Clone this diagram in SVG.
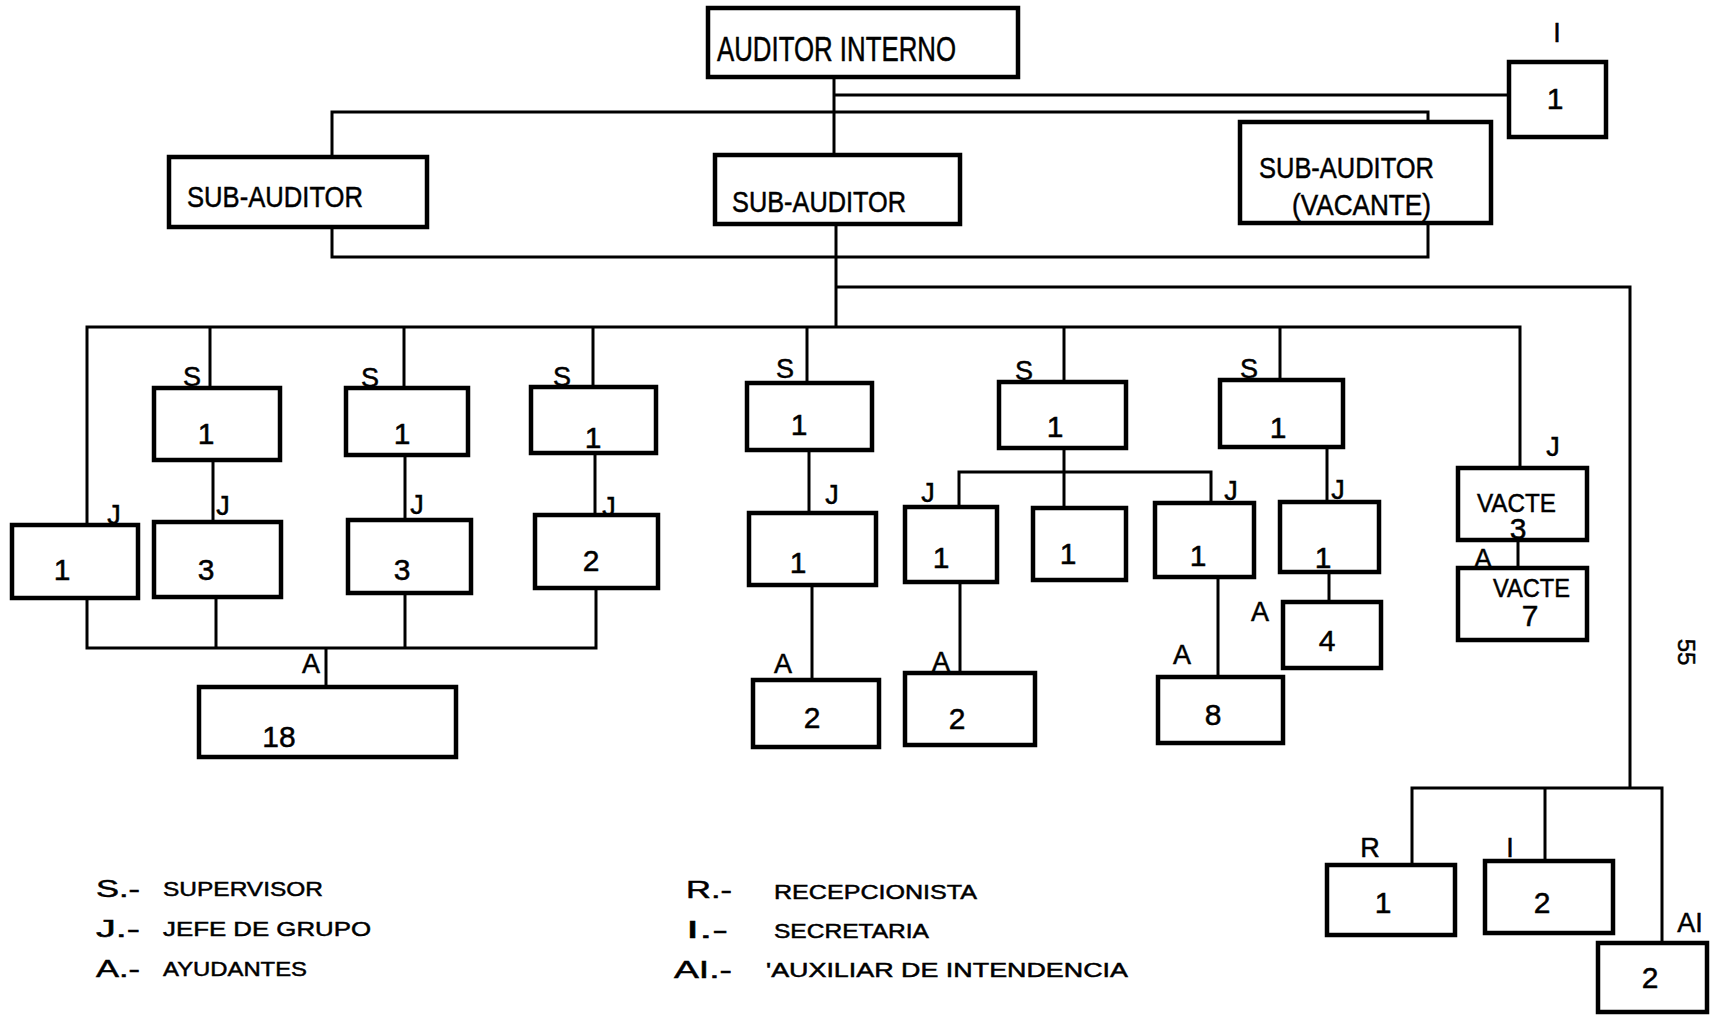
<svg xmlns="http://www.w3.org/2000/svg" width="1717" height="1015" viewBox="0 0 1717 1015">
<style>
.box{fill:#fff;stroke:#000;stroke-width:4.5}
.ln{fill:none;stroke:#000;stroke-width:3}
text{font-family:"Liberation Sans",Arial,sans-serif;fill:#000;stroke:#000;stroke-width:0.5}
.t{font-size:30px}
.lb{font-size:27px;text-anchor:middle}
.num{font-size:30px;text-anchor:middle}
.vac{font-size:26px}
.lg{font-size:21px}
.lk{font-size:24px}
</style>
<rect width="1717" height="1015" fill="#fff"/>
<g id="connectors">
<polyline class="ln" points="834,77 834,155"/>
<polyline class="ln" points="834,95 1509,95"/>
<polyline class="ln" points="332,157 332,112 1428,112 1428,122"/>
<polyline class="ln" points="332,227 332,257 1428,257 1428,223"/>
<polyline class="ln" points="836,224 836,327"/>
<polyline class="ln" points="836,287 1630,287 1630,788"/>
<polyline class="ln" points="87,525 87,327 1520,327 1520,468"/>
<polyline class="ln" points="210,327 210,388"/>
<polyline class="ln" points="213,460 213,522"/>
<polyline class="ln" points="404,327 404,388"/>
<polyline class="ln" points="405,455 405,520"/>
<polyline class="ln" points="593,327 593,387"/>
<polyline class="ln" points="595,453 595,515"/>
<polyline class="ln" points="87,598 87,648 596,648 596,588"/>
<polyline class="ln" points="216,597 216,648"/>
<polyline class="ln" points="405,593 405,648"/>
<polyline class="ln" points="326,648 326,687"/>
<polyline class="ln" points="807,327 807,383"/>
<polyline class="ln" points="809,450 809,513"/>
<polyline class="ln" points="812,585 812,680"/>
<polyline class="ln" points="1064,327 1064,382"/>
<polyline class="ln" points="1064,448 1064,508"/>
<polyline class="ln" points="959,507 959,472 1211,472 1211,503"/>
<polyline class="ln" points="960,582 960,673"/>
<polyline class="ln" points="1218,577 1218,677"/>
<polyline class="ln" points="1280,327 1280,380"/>
<polyline class="ln" points="1327,447 1327,502"/>
<polyline class="ln" points="1329,572 1329,602"/>
<polyline class="ln" points="1518,540 1518,568"/>
<polyline class="ln" points="1412,865 1412,788 1662,788 1662,943"/>
<polyline class="ln" points="1545,788 1545,861"/>
</g>
<g id="auditor-interno"><rect class="box" x="708" y="8" width="310" height="69"/><text x="717" y="61" font-size="35" textLength="239" lengthAdjust="spacingAndGlyphs">AUDITOR INTERNO</text></g>
<g id="secretaria-top"><text class="lb" x="1557" y="42">I</text><rect class="box" x="1509" y="62" width="97" height="75"/><text class="num" x="1555" y="109">1</text></g>
<g id="sub-auditor-1"><rect class="box" x="169" y="157" width="258" height="70"/><text class="t" x="187" y="207" textLength="176" lengthAdjust="spacingAndGlyphs">SUB-AUDITOR</text></g>
<g id="sub-auditor-2"><rect class="box" x="715" y="155" width="245" height="69"/><text class="t" x="732" y="212" textLength="174" lengthAdjust="spacingAndGlyphs">SUB-AUDITOR</text></g>
<g id="sub-auditor-3"><rect class="box" x="1240" y="122" width="251" height="101"/><text class="t" x="1259" y="178" textLength="175" lengthAdjust="spacingAndGlyphs">SUB-AUDITOR</text><text class="t" x="1292" y="215" textLength="139" lengthAdjust="spacingAndGlyphs">(VACANTE)</text></g>
<g id="col1-s"><text class="lb" x="192" y="386">S</text><rect class="box" x="154" y="388" width="126" height="72"/><text class="num" x="206" y="444">1</text></g>
<g id="col1-j"><text class="lb" x="223" y="515">J</text><rect class="box" x="154" y="522" width="127" height="75"/><text class="num" x="206" y="580">3</text></g>
<g id="col2-s"><text class="lb" x="370" y="387">S</text><rect class="box" x="346" y="388" width="122" height="67"/><text class="num" x="402" y="444">1</text></g>
<g id="col2-j"><text class="lb" x="417" y="514">J</text><rect class="box" x="348" y="520" width="123" height="73"/><text class="num" x="402" y="580">3</text></g>
<g id="col3-s"><text class="lb" x="562" y="386">S</text><rect class="box" x="531" y="387" width="125" height="66"/><text class="num" x="593" y="448">1</text></g>
<g id="col3-j"><text class="lb" x="609" y="516">J</text><rect class="box" x="535" y="515" width="123" height="73"/><text class="num" x="591" y="571">2</text></g>
<g id="left-j"><text class="lb" x="114" y="524">J</text><rect class="box" x="12" y="525" width="126" height="73"/><text class="num" x="62" y="580">1</text></g>
<g id="a-18"><text class="lb" x="311" y="673">A</text><rect class="box" x="199" y="687" width="257" height="70"/><text class="num" x="279" y="747">18</text></g>
<g id="col4-s"><text class="lb" x="785" y="378">S</text><rect class="box" x="747" y="383" width="125" height="67"/><text class="num" x="799" y="435">1</text></g>
<g id="col4-j"><text class="lb" x="832" y="504">J</text><rect class="box" x="749" y="513" width="127" height="72"/><text class="num" x="798" y="573">1</text></g>
<g id="col4-a"><text class="lb" x="783" y="673">A</text><rect class="box" x="753" y="680" width="126" height="67"/><text class="num" x="812" y="728">2</text></g>
<g id="col5-s"><text class="lb" x="1024" y="380">S</text><rect class="box" x="999" y="382" width="127" height="66"/><text class="num" x="1055" y="437">1</text></g>
<g id="col5-j1"><text class="lb" x="928" y="502">J</text><rect class="box" x="905" y="507" width="92" height="75"/><text class="num" x="941" y="568">1</text></g>
<g id="col5-m"><rect class="box" x="1033" y="508" width="93" height="72"/><text class="num" x="1068" y="564">1</text></g>
<g id="col5-j2"><text class="lb" x="1231" y="500">J</text><rect class="box" x="1155" y="503" width="99" height="74"/><text class="num" x="1198" y="566">1</text></g>
<g id="col5-a1"><text class="lb" x="941" y="671">A</text><rect class="box" x="905" y="673" width="130" height="72"/><text class="num" x="957" y="729">2</text></g>
<g id="col5-a2"><text class="lb" x="1182" y="664">A</text><rect class="box" x="1158" y="677" width="125" height="66"/><text class="num" x="1213" y="725">8</text></g>
<g id="col6-s"><text class="lb" x="1249" y="378">S</text><rect class="box" x="1220" y="380" width="123" height="67"/><text class="num" x="1278" y="438">1</text></g>
<g id="col6-j"><text class="lb" x="1338" y="499">J</text><rect class="box" x="1280" y="502" width="99" height="70"/><text class="num" x="1323" y="568">1</text></g>
<g id="col6-a"><text class="lb" x="1260" y="621">A</text><rect class="box" x="1283" y="602" width="98" height="66"/><text class="num" x="1327" y="651">4</text></g>
<g id="col7-j"><text class="lb" x="1553" y="456">J</text><rect class="box" x="1458" y="468" width="129" height="72"/><text class="vac" x="1477" y="512" textLength="79" lengthAdjust="spacingAndGlyphs">VACTE</text><text class="num" x="1518" y="539" font-size="26">3</text></g>
<g id="col7-a"><text class="lb" x="1483" y="568">A</text><rect class="box" x="1458" y="568" width="129" height="72"/><text class="vac" x="1493" y="597" textLength="77" lengthAdjust="spacingAndGlyphs">VACTE</text><text class="num" x="1530" y="626" font-size="28">7</text></g>
<g id="recepcionista"><text class="lb" x="1370" y="857">R</text><rect class="box" x="1327" y="865" width="128" height="70"/><text class="num" x="1383" y="913">1</text></g>
<g id="secretaria"><text class="lb" x="1510" y="857">I</text><rect class="box" x="1485" y="861" width="128" height="72"/><text class="num" x="1542" y="913">2</text></g>
<g id="aux-intendencia"><text class="lb" x="1690" y="932">AI</text><rect class="box" x="1598" y="943" width="109" height="69"/><text class="num" x="1650" y="988">2</text></g>
<text x="1686" y="652" font-size="24" text-anchor="middle" dominant-baseline="central" transform="rotate(90 1686 652)">55</text>
<g id="legend">
<text class="lk" x="96" y="897" textLength="44" lengthAdjust="spacingAndGlyphs">S.-</text><text class="lg" x="163" y="896" textLength="160" lengthAdjust="spacingAndGlyphs">SUPERVISOR</text>
<text class="lk" x="96" y="937" textLength="44" lengthAdjust="spacingAndGlyphs">J.-</text><text class="lg" x="163" y="936" textLength="208" lengthAdjust="spacingAndGlyphs">JEFE DE GRUPO</text>
<text class="lk" x="96" y="977" textLength="44" lengthAdjust="spacingAndGlyphs">A.-</text><text class="lg" x="163" y="976" textLength="144" lengthAdjust="spacingAndGlyphs">AYUDANTES</text>
<text class="lk" x="686" y="898" textLength="46" lengthAdjust="spacingAndGlyphs">R.-</text><text class="lg" x="774" y="899" textLength="203" lengthAdjust="spacingAndGlyphs">RECEPCIONISTA</text>
<text class="lk" x="686" y="938" textLength="42" lengthAdjust="spacingAndGlyphs">I.-</text><text class="lg" x="774" y="938" textLength="155" lengthAdjust="spacingAndGlyphs">SECRETARIA</text>
<text class="lk" x="674" y="978" textLength="58" lengthAdjust="spacingAndGlyphs">AI.-</text><text class="lg" x="766" y="977" textLength="362" lengthAdjust="spacingAndGlyphs">'AUXILIAR DE INTENDENCIA</text>
</g>
</svg>
